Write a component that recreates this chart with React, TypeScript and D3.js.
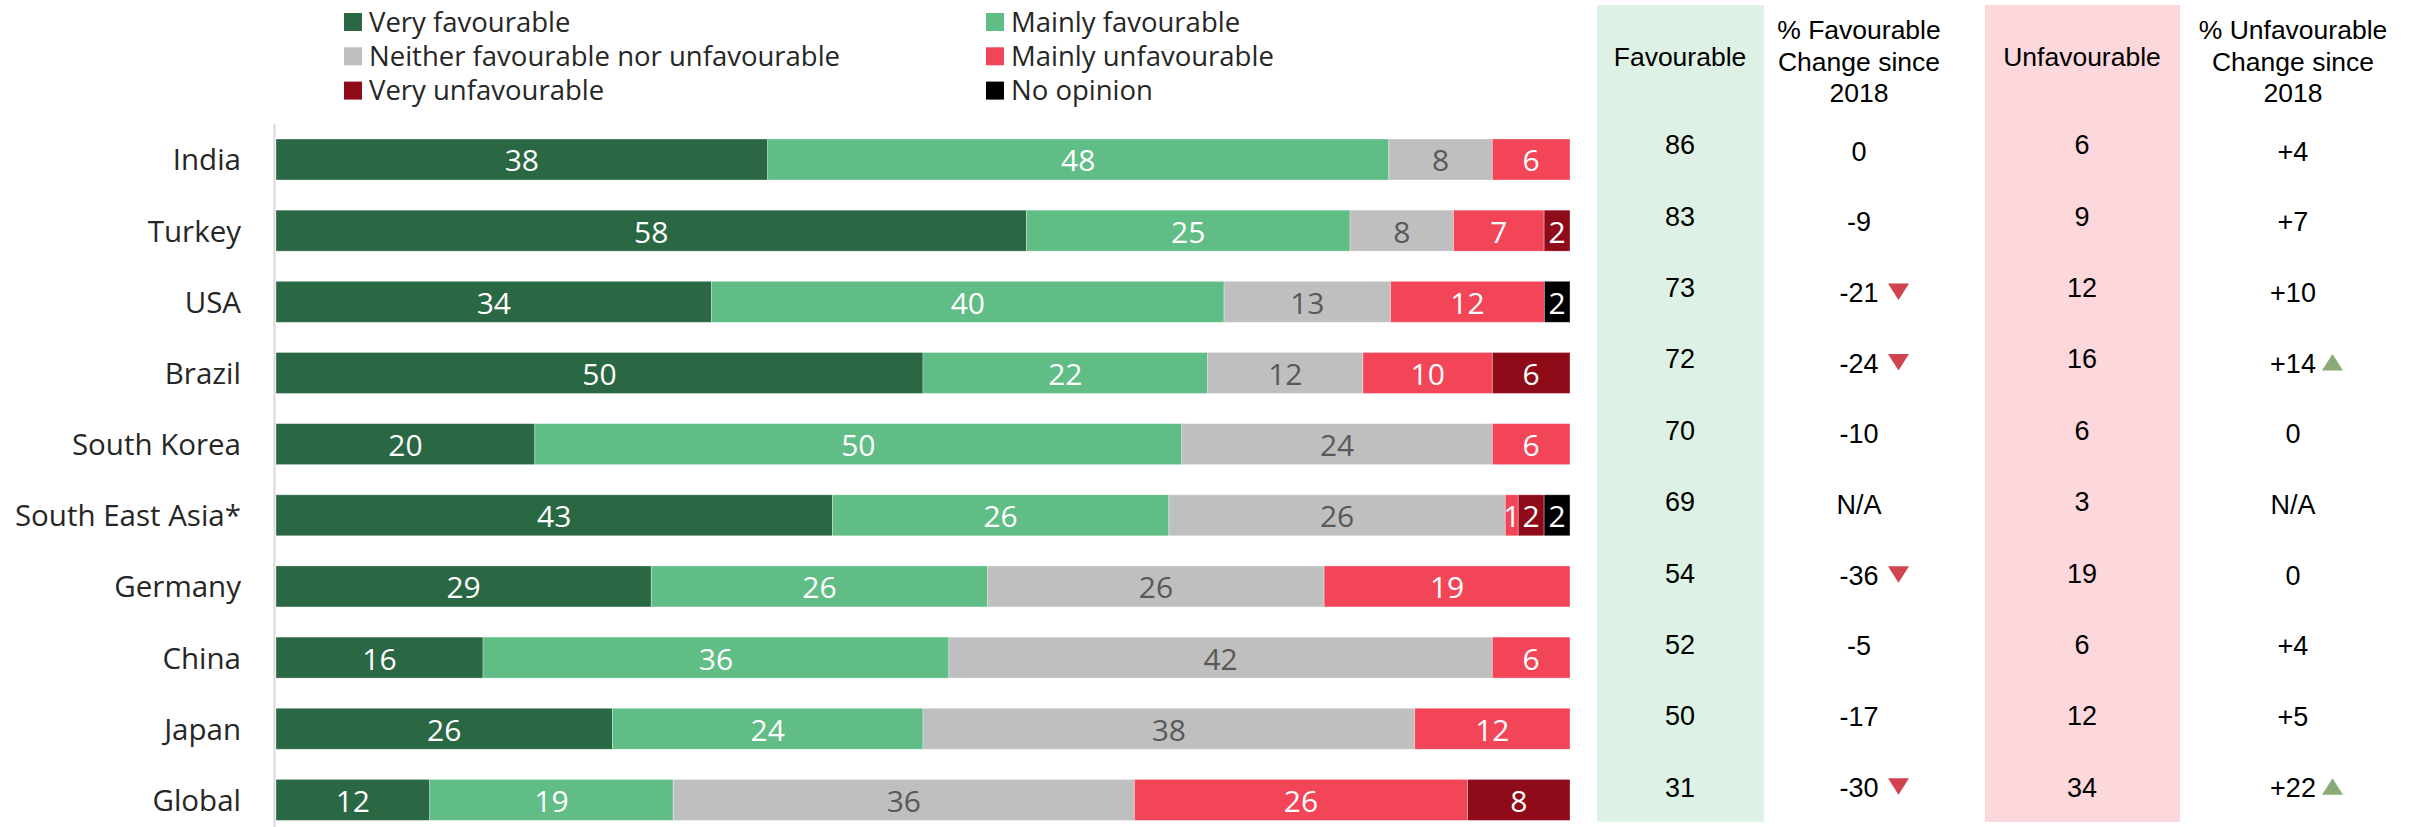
import * as d3 from 'd3';
import React, { useEffect, useRef } from 'react';

const countries = ['India', 'Turkey', 'USA', 'Brazil', 'South Korea', 'South East Asia*', 'Germany', 'China', 'Japan', 'Global'];
const seriesNames = ['Very favourable', 'Mainly favourable', 'Neither favourable nor unfavourable', 'Mainly unfavourable', 'Very unfavourable', 'No opinion'];
const seriesKeys = ['veryFav', 'mainlyFav', 'neither', 'mainlyUnfav', 'veryUnfav', 'noOpinion'];
const seriesColors = ['#2a6743', '#5fbd85', '#bfbfbf', '#f24557', '#8f0b19', '#000000'];
const labelColors = ['#ffffff', '#ffffff', '#595959', '#ffffff', '#ffffff', '#ffffff'];

const veryFav = [38, 58, 34, 50, 20, 43, 29, 16, 26, 12];
const mainlyFav = [48, 25, 40, 22, 50, 26, 26, 36, 24, 19];
const neither = [8, 8, 13, 12, 24, 26, 26, 42, 38, 36];
const mainlyUnfav = [6, 7, 12, 10, 6, 1, 19, 6, 12, 26];
const veryUnfav = [0, 2, 0, 6, 0, 2, 0, 0, 0, 8];
const noOpinion = [0, 0, 2, 0, 0, 2, 0, 0, 0, 0];

const favourable = [86, 83, 73, 72, 70, 69, 54, 52, 50, 31];
const favChange = ['0', '-9', '-21', '-24', '-10', 'N/A', '-36', '-5', '-17', '-30'];
const favTrend = [0, 0, -1, -1, 0, 0, -1, 0, 0, -1];
const unfavourable = [6, 9, 12, 16, 6, 3, 19, 6, 12, 34];
const unfavChange = ['+4', '+7', '+10', '+14', '0', 'N/A', '0', '+4', '+5', '+22'];
const unfavTrend = [0, 0, 0, 1, 0, 0, 0, 0, 0, 1];

const W = 2415;
const H = 827;
const labelFont = '"Open Sans", "Noto Sans", sans-serif';
const tableFont = '"Liberation Sans", Arial, sans-serif';

export default function App() {
  const svgRef = useRef<SVGSVGElement>(null);

  useEffect(() => {
    document.body.style.margin = '0';
    const svg = d3.select(svgRef.current).attr('width', W).attr('height', H).html('');

    const rows = countries.map((c, i) => ({
      country: c,
      veryFav: veryFav[i],
      mainlyFav: mainlyFav[i],
      neither: neither[i],
      mainlyUnfav: mainlyUnfav[i],
      veryUnfav: veryUnfav[i],
      noOpinion: noOpinion[i]
    }));

    const stacked = d3.stack<any>().keys(seriesKeys).offset(d3.stackOffsetExpand)(rows);

    const x = d3.scaleLinear().domain([0, 1]).range([276, 1570]);
    const y = d3.scaleBand().domain(countries).range([139, 820.4]).paddingInner(0.424).paddingOuter(0);

    // table panels
    svg.append('rect').attr('x', 1597).attr('y', 5).attr('width', 167).attr('height', 817).attr('fill', '#ddf1e5');
    svg.append('rect').attr('x', 1985).attr('y', 5).attr('width', 195).attr('height', 817).attr('fill', '#fcd7dc');

    // legend
    const legend = svg.append('g');
    seriesNames.forEach((name, i) => {
      const col = i % 2;
      const row = Math.floor(i / 2);
      const lx = col === 0 ? 344 : 986;
      const cy = 22 + row * 34.3;
      legend.append('rect').attr('x', lx).attr('y', cy - 9).attr('width', 18).attr('height', 18).attr('fill', seriesColors[i]);
      legend.append('text').attr('x', lx + 25).attr('y', cy + 9.5)
        .attr('font-family', labelFont).attr('font-size', 27.5).attr('fill', '#262626')
        .text(name);
    });

    // axis line
    svg.append('line').attr('x1', 274.5).attr('x2', 274.5).attr('y1', 124).attr('y2', H)
      .attr('stroke', '#d9d9d9').attr('stroke-width', 2);

    // country labels
    svg.append('g').selectAll('text').data(countries).enter().append('text')
      .attr('x', 241)
      .attr('y', d => y(d)! + y.bandwidth() / 2 + 11)
      .attr('text-anchor', 'end')
      .attr('font-family', labelFont).attr('font-size', 29.5).attr('fill', '#262626')
      .text(d => d);

    // bars
    const groups = svg.append('g').selectAll('g').data(stacked).enter().append('g')
      .attr('fill', (_, i) => seriesColors[i]);
    groups.selectAll('rect').data(d => d).enter().append('rect')
      .attr('x', d => x(d[0]))
      .attr('y', d => y(d.data.country)!)
      .attr('width', d => x(d[1]) - x(d[0]))
      .attr('height', y.bandwidth())
      .attr('stroke', '#ffffff').attr('stroke-opacity', 0.4).attr('stroke-width', 0.8);

    // bar labels
    svg.append('clipPath').attr('id', 'barclip').append('rect')
      .attr('x', 276).attr('y', 0).attr('width', 1295).attr('height', H);
    const labels = svg.append('g').attr('clip-path', 'url(#barclip)');
    stacked.forEach((s, si) => {
      s.forEach((d, ri) => {
        const v = (d.data as any)[seriesKeys[si]];
        if (!v) return;
        labels.append('text')
          .attr('x', (x(d[0]) + x(d[1])) / 2)
          .attr('y', y(countries[ri])! + y.bandwidth() / 2 + 12)
          .attr('text-anchor', 'middle')
          .attr('font-family', labelFont).attr('font-size', 30)
          .attr('fill', labelColors[si])
          .text(v);
      });
    });

    // table
    const yVal = d3.scalePoint().domain(countries).range([144.7, 787.3]);
    const yChg = d3.scalePoint().domain(countries).range([151, 787.3]);

    const headers = [
      { x: 1680, lines: ['Favourable'], y0: 66 },
      { x: 1859, lines: ['% Favourable', 'Change since', '2018'], y0: 39 },
      { x: 2082, lines: ['Unfavourable'], y0: 66 },
      { x: 2293, lines: ['% Unfavourable', 'Change since', '2018'], y0: 39 }
    ];
    headers.forEach(h => {
      h.lines.forEach((l, li) => {
        svg.append('text').attr('x', h.x).attr('y', h.y0 + li * 31.5)
          .attr('text-anchor', 'middle').attr('font-family', tableFont).attr('font-size', 26.5)
          .attr('fill', '#000').text(l);
      });
    });

    const columns = [
      { x: 1680, values: favourable.map(String), scale: yVal, trend: null as number[] | null },
      { x: 1859, values: favChange, scale: yChg, trend: favTrend },
      { x: 2082, values: unfavourable.map(String), scale: yVal, trend: null },
      { x: 2293, values: unfavChange, scale: yChg, trend: unfavTrend }
    ];
    columns.forEach(col => {
      countries.forEach((c, i) => {
        const cy = col.scale(c)!;
        svg.append('text').attr('x', col.x).attr('y', cy + 9.5)
          .attr('text-anchor', 'middle').attr('font-family', tableFont).attr('font-size', 27)
          .attr('fill', '#000').text(col.values[i]);
        if (col.trend && col.trend[i] !== 0) {
          const tx = col.x + 29;
          const path = col.trend[i] < 0
            ? `M${tx},${cy - 9}L${tx + 21},${cy - 9}L${tx + 10.5},${cy + 7.5}Z`
            : `M${tx + 10.5},${cy - 9}L${tx + 21},${cy + 7.5}L${tx},${cy + 7.5}Z`;
          svg.append('path').attr('d', path).attr('fill', col.trend[i] < 0 ? '#d0434f' : '#8aab76');
        }
      });
    });
  }, []);

  return <svg ref={svgRef} style={{ display: 'block' }} />;
}
